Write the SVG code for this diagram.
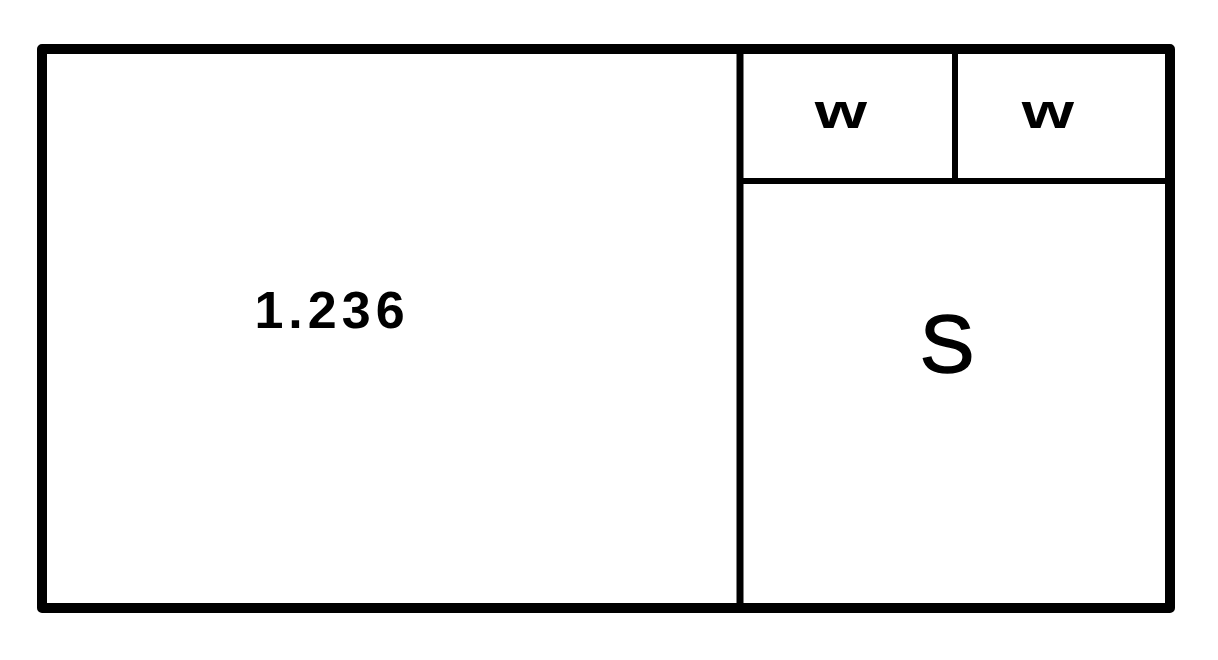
<svg xmlns="http://www.w3.org/2000/svg" width="1218" height="660" viewBox="0 0 1218 660">
<style>
.thick{fill:none;stroke:#000;stroke-width:10;stroke-linejoin:round}
.thin{fill:none;stroke:#000;stroke-width:6;stroke-linecap:square}
.lbl{font-family:"Liberation Sans",Arial,sans-serif;fill:#000;text-anchor:middle}
</style>
<rect width="1218" height="660" fill="#fff"/>
<g id="frame">
<rect class="thick" x="42" y="49" width="1128" height="559"/>
</g>
<g id="connectors">
<line class="thin" x1="740" y1="52" x2="740" y2="606" style="stroke-width:7"/>
<line class="thin" x1="742" y1="181" x2="1166" y2="181"/>
<line class="thin" x1="955" y1="53" x2="955" y2="179"/>
</g>
<g id="node-main">
<text class="lbl" x="332" y="328" font-size="52" font-weight="bold" letter-spacing="5">1.236</text>
</g>
<g id="node-w1">
<text class="lbl" x="0" y="0" font-size="48" font-weight="bold" transform="translate(841 128) scale(1.4 1)">w</text>
</g>
<g id="node-w2">
<text class="lbl" x="0" y="0" font-size="48" font-weight="bold" transform="translate(1048 128) scale(1.4 1)">w</text>
</g>
<g id="node-s">
<text class="lbl" x="947" y="372" font-size="82" stroke="#000" stroke-width="1.5">S</text>
</g>
</svg>
